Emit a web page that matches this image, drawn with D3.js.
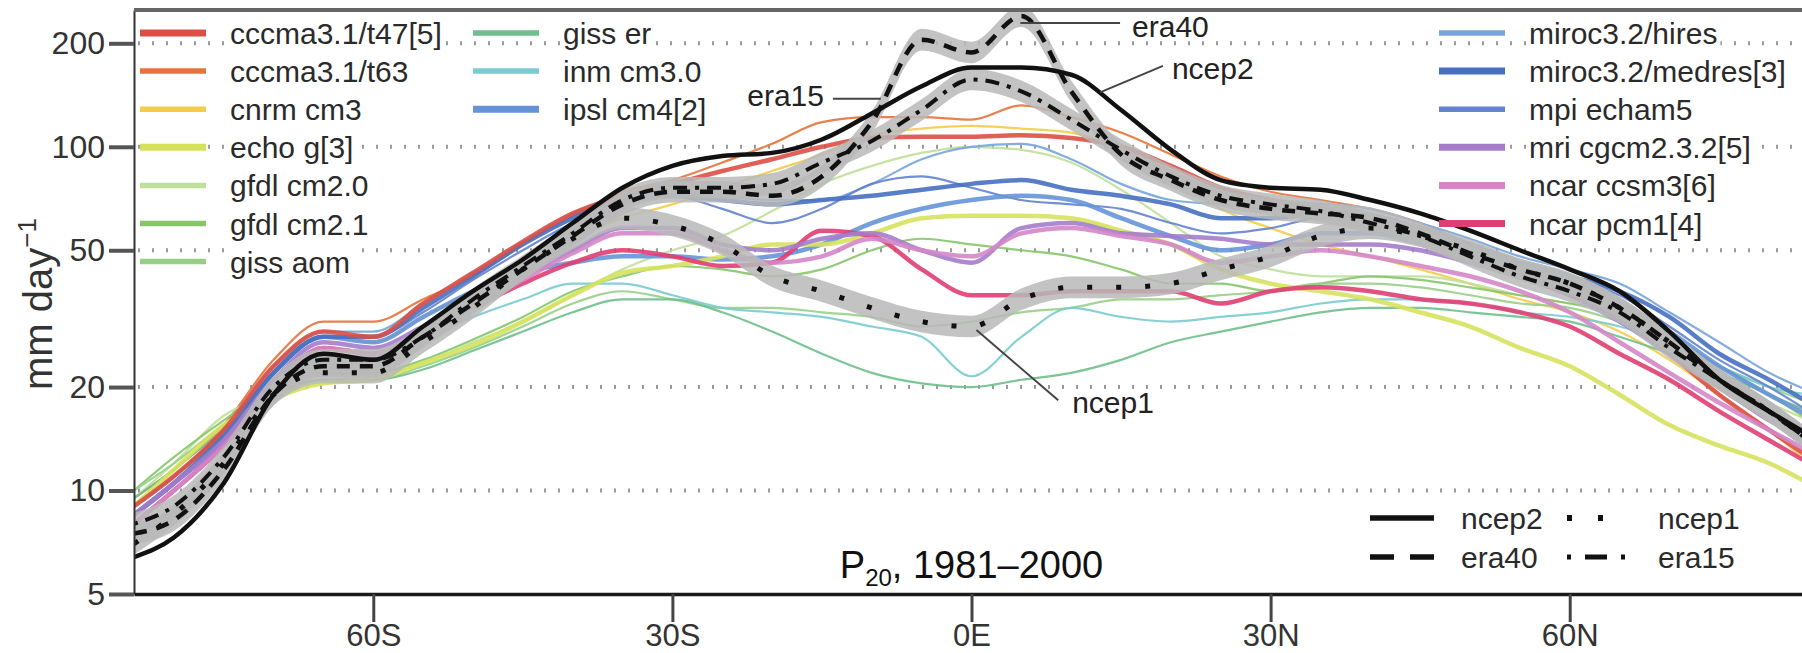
<!DOCTYPE html>
<html lang="en">
<head>
<meta charset="UTF-8">
<title>P20, 1981-2000</title>
<script src="https://cdn.jsdelivr.net/npm/d3@7"></script>
<style>
  body { margin: 0; background: #fff; }
  svg { display: block; font-family: "Liberation Sans", Arial, Helvetica, sans-serif; }
</style>
</head>
<body>
<script>
// latitude grid (deg, negative = south)
var lats = [-84,-80,-75,-70,-65,-60,-55,-50,-45,-40,-35,-30,-25,-20,-15,-10,-5,0,5,10,15,20,25,30,35,40,45,50,55,60,65,70,75,80,84];

// model zonal means of P20 (mm/day)
var cccmaT47    = [9,11,15,23,29,28,35,43,53,64,72,78,85,92,100,106,107,107,108,106,100,88,76,70,66,62,56,48,42,37,32,25,19,15,12.5];
var cccmaT63    = [9.5,11.5,15.5,24,31,31,36,42,52,63,74,80,90,102,118,122,122,120,132,122,110,95,82,74,70,66,60,52,45,40,35,28,22,17,14];
var cnrmCm3     = [9,11,14.5,22,28,27,32,38,46,55,62,68,76,85,95,108,113,115,113,110,98,85,66,58,52,48,44,40,36,33,29,24,19,15,12];
var echoG       = [9,11.5,15.5,18.5,20.5,21,23.5,26.5,31,37,43,45,48,52,52,56,62,63,63,62,57,52,44,40,38,36,33,30,26,23,19,15.5,13.5,12,10.5];
var gfdlCm20    = [9.5,12,16.5,19,21,21.5,23.5,27,31,37,44,50,55,65,78,88,96,100,98,90,75,60,48,44,42,42,42,40,37,35,32,27,22,18,16];
var gfdlCm21    = [10,12.5,16,20,22,22,24,27.5,32,38,42,45,44,42,44,50,54,52,50,48,44,40,40,38,40,42,41,39,37,35,33,28,23,19,16];
var gissAom     = [10,12,15.5,19,21,21,23,26,30,35,38,36,34,34,33,32,30,31,33,34,36,36,37,38,40,40,39,37,35,34,31,27,23,20,18];
var gissEr      = [9.5,11.5,15,19,21,21,22.5,25.5,29,33,36,36,33,29,25,22,20.5,20,21,22,24,27,29,31,33,34,34,33,32,31,28,25,22,19,17];
var inmCm30     = [9,11,14.5,21,26,25,28,32,36,40,40,37,34,33,32,30,28,21.5,28,34,32,31,32,33,35,36,36,35,33,32,30,27,23,20,19];
var ipslCm4     = [8.5,10.5,14,22,28,27,32,38,43,46,48,48,47,48,52,60,66,70,72,70,62,55,50,52,56,56,54,49,44,40,35,29,23,19,16.5];
var mirocHires  = [9,11,15,23,29,29,35,43,53,64,72,74,72,70,70,78,92,100,102,92,78,70,68,66,68,66,60,54,48,44,40,33,27,22,19.5];
var mirocMedres = [8.5,10.5,14.5,22,28,28,34,42,52,62,70,72,70,68,70,72,75,78,80,75,72,68,62,62,64,63,58,52,46,42,38,32,25,21,18];
var mpiEcham5   = [9,11,15,22,28,28,33,41,50,60,68,72,66,60,66,78,82,76,70,68,66,60,56,58,62,60,56,50,45,41,37,30,24,20,17];
var mriCgcm     = [8.5,10.5,14,21,27,26,30,35,42,50,58,58,52,50,54,56,50,46,58,60,56,55,54,52,52,52,50,46,42,37,31,25,20,16,14];
var ncarCcsm3   = [8,10,13.5,20,26,25,29,34,41,49,56,56,50,46,48,54,50,48,56,58,55,52,46,48,50,48,45,42,38,33,27,22,18,15,13];
var ncarPcm1    = [8,10,13.5,20,26,25,29,34,40,46,50,48,45,46,57,55,44,37,37,38,38,38,35,38,39,38,36,35,33,30,25,21,17,14,12];

// reanalyses
var ncep2 = [6.4,7.3,10.5,19,25,24,30,38,47,60,76,88,94,96,105,125,150,170,170,162,128,98,80,76,75,70,64,57,50,44,38,29,21,17,14.5];
var era40 = [7.5,8.2,11.5,19,23,23,28,35,44,55,68,74,74,72,82,118,205,188,240,145,95,80,70,66,64,62,56,49,44,40,34,27,21,17,14];
var era15 = [8,9,12.5,20,24,24,28,36,45,56,70,76,76,78,90,104,128,157,145,120,98,82,72,68,65,60,55,48,42,38,33,26,21,17,14];
var ncep1 = [7,8.5,12,19,22,22,27,34,44,54,62,59,52,42,38,34,31,30,36,39,39,40,44,48,55,58,55,50,44,40,34,27,21,17,14];

var modelNames = ["cccma3.1/t47[5]","cccma3.1/t63","cnrm cm3","echo g[3]","gfdl cm2.0","gfdl cm2.1","giss aom",
                  "giss er","inm cm3.0","ipsl cm4[2]",
                  "miroc3.2/hires","miroc3.2/medres[3]","mpi echam5","mri cgcm2.3.2[5]","ncar ccsm3[6]","ncar pcm1[4]"];
var modelValues = [cccmaT47,cccmaT63,cnrmCm3,echoG,gfdlCm20,gfdlCm21,gissAom,gissEr,inmCm30,ipslCm4,
                   mirocHires,mirocMedres,mpiEcham5,mriCgcm,ncarCcsm3,ncarPcm1];
var modelColors = ["#dc4f45","#e5733a","#f4cc4a","#d6e25e","#bfe09a","#86c56c","#98cf88",
                   "#6fbf8c","#79cbcf","#6593d8",
                   "#77a4dc","#4770c2","#6382cf","#a47ccc","#d486c8","#e03e72"];

var reNames = ["ncep2","ncep1","era40","era15"];
var reValues = [ncep2, ncep1, era40, era15];

var yTicks = [5,10,20,50,100,200];
var yGrid = [10,20,50,100,200];
var xTicks = [-60,-30,0,30,60];
var xTickLabels = ["60S","30S","0E","30N","60N"];

var width = 1802, height = 653;
var plotL = 134, plotT = 10, plotB = 594, plotR = 1809;

var x = d3.scaleLinear().domain([-84, 84]).range([plotL, plotR]);
var y = d3.scaleLog().domain([5, 250]).range([plotB, plotT]);

var svg = d3.select("body").append("svg")
    .attr("width", width)
    .attr("height", height);

svg.append("defs").append("clipPath").attr("id", "plot")
    .append("rect").attr("x", plotL).attr("y", plotT).attr("width", plotR - plotL).attr("height", plotB - plotT);

// dotted grid
svg.append("g").selectAll("line")
    .data(yGrid).enter().append("line")
    .attr("x1", plotL + 4).attr("x2", width)
    .attr("y1", d => y(d)).attr("y2", d => y(d))
    .attr("stroke", "#9a9a9a")
    .attr("stroke-width", 4)
    .attr("stroke-dasharray", "2,12");

var plot = svg.append("g").attr("clip-path", "url(#plot)");

var line = d3.line()
    .x((d, i) => x(lats[i]))
    .y(d => y(d))
    .curve(d3.curveMonotoneX);

function members(name) {
    var m = name.match(/\[(\d+)\]/);
    return m ? +m[1] : 1;
}

// single-run models first, ensembles on top
var order = d3.range(modelNames.length).sort((a, b) => members(modelNames[a]) - members(modelNames[b]));
plot.selectAll("path.model")
    .data(order).enter().append("path")
    .attr("class", "model")
    .attr("d", i => line(modelValues[i]))
    .attr("fill", "none")
    .attr("stroke", i => modelColors[i])
    .attr("stroke-opacity", 0.9)
    .attr("stroke-width", i => members(modelNames[i]) > 1 ? 4.5 : 2.2)
    .attr("stroke-linejoin", "round");

// grey uncertainty bands of reanalyses
var band = d3.area()
    .x((d, i) => x(lats[i]))
    .y0(d => y(d / 1.075))
    .y1(d => y(d * 1.075))
    .curve(d3.curveMonotoneX);

plot.selectAll("path.band")
    .data([era40, era15, ncep1]).enter().append("path")
    .attr("class", "band")
    .attr("d", band)
    .attr("fill", "#b9b9b9")
    .attr("fill-opacity", 0.85);

var reDash = ["none", "5,24", "13,10", "4,8,14,8"];
var reWidth = [4.5, 5, 4.5, 4];

plot.selectAll("path.re")
    .data(d3.range(reNames.length)).enter().append("path")
    .attr("class", "re")
    .attr("d", i => line(reValues[i]))
    .attr("fill", "none")
    .attr("stroke", "#111")
    .attr("stroke-width", i => reWidth[i])
    .attr("stroke-dasharray", i => reDash[i]);

// labels with leader lines (positions in lat / mm day-1)
var notes = [
    {label: "era40", from: [4.9, 229], to: [14.9, 229], at: [16.1, 208], anchor: "start"},
    {label: "ncep2", from: [12.9, 144], to: [19.2, 172], at: [20.1, 158], anchor: "start"},
    {label: "era15", from: [-9.1, 138], to: [-13.9, 138], at: [-14.8, 131], anchor: "end"},
    {label: "ncep1", from: [0.5, 29.3], to: [8.7, 18.3], at: [10.1, 16.8], anchor: "start"}
];
var ng = svg.append("g");
ng.selectAll("line").data(notes).enter().append("line")
    .attr("x1", d => x(d.from[0])).attr("y1", d => y(d.from[1]))
    .attr("x2", d => x(d.to[0])).attr("y2", d => y(d.to[1]))
    .attr("stroke", "#444").attr("stroke-width", 2);
ng.selectAll("text").data(notes).enter().append("text")
    .attr("x", d => x(d.at[0])).attr("y", d => y(d.at[1]))
    .attr("text-anchor", d => d.anchor)
    .attr("font-size", 30).attr("fill", "#222")
    .text(d => d.label);

// model legend, three columns
var legCols = [{x: 140, first: 0, n: 7}, {x: 473, first: 7, n: 3}, {x: 1439, first: 10, n: 6}];
var legTop = 33, legStep = 38.1, swLen = 66, txtGap = 24;
legCols.forEach(function(c) {
    for (var k = 0; k < c.n; k++) {
        var i = c.first + k;
        var ly = legTop + k * legStep;
        var g = svg.append("g");
        g.append("line")
            .attr("x1", c.x).attr("x2", c.x + swLen)
            .attr("y1", ly).attr("y2", ly)
            .attr("stroke", modelColors[i])
            .attr("stroke-width", members(modelNames[i]) > 1 ? 7 : 5.5);
        var bg = g.append("rect").attr("fill", "#fff");
        var t = g.append("text")
            .attr("x", c.x + swLen + txtGap).attr("y", ly + 11)
            .attr("font-size", 30).attr("fill", "#2a2a2a")
            .text(modelNames[i]);
        var b = t.node().getBBox();
        bg.attr("x", b.x - 3).attr("y", b.y).attr("width", b.width + 6).attr("height", b.height);
    }
});

// reanalysis legend
var reLegX = [1370, 1567], reLegY = [518, 557];
var reLegDash = ["none", "5,26", "24,16", "4,14,22,14"];
var reLegLen = [64, 36, 64, 64];
reNames.forEach(function(name, i) {
    var cx = reLegX[i % 2], cy = reLegY[Math.floor(i / 2)];
    svg.append("line")
        .attr("x1", cx).attr("x2", cx + reLegLen[i])
        .attr("y1", cy).attr("y2", cy)
        .attr("stroke", "#111")
        .attr("stroke-width", reWidth[i] + 1)
        .attr("stroke-dasharray", reLegDash[i]);
    svg.append("text")
        .attr("x", cx + 91).attr("y", cy + 11)
        .attr("font-size", 30).attr("fill", "#2a2a2a")
        .text(name);
});

// title
var title = svg.append("text")
    .attr("x", x(0)).attr("y", 578)
    .attr("text-anchor", "middle")
    .attr("font-size", 38).attr("fill", "#111");
title.append("tspan").text("P");
title.append("tspan").attr("font-size", 24).attr("dy", 8).text("20");
title.append("tspan").attr("dy", -8).text(", 1981\u20132000");

// axes
var yAxis = svg.append("g")
    .attr("transform", "translate(" + plotL + ",0)")
    .call(d3.axisLeft(y).tickValues(yTicks).tickFormat(d3.format("d")).tickSize(25).tickSizeOuter(0).tickPadding(4));
yAxis.select(".domain").attr("stroke", "#333").attr("stroke-width", 2);
yAxis.selectAll(".tick line").attr("stroke", "#555").attr("stroke-width", 4);
yAxis.selectAll(".tick text").attr("font-size", 32).attr("fill", "#333").attr("font-family", null);

var xAxis = svg.append("g")
    .attr("transform", "translate(0," + plotB + ")")
    .call(d3.axisBottom(x).tickValues(xTicks).tickFormat((d, i) => xTickLabels[i]).tickSize(28).tickSizeOuter(0).tickPadding(2));
xAxis.select(".domain").attr("stroke", "#1a1a1a").attr("stroke-width", 3.5);
xAxis.selectAll(".tick line").attr("stroke", "#444").attr("stroke-width", 3);
xAxis.selectAll(".tick text").attr("font-size", 31).attr("fill", "#333").attr("font-family", null);

// top frame
svg.append("line")
    .attr("x1", plotL).attr("x2", width)
    .attr("y1", plotT).attr("y2", plotT)
    .attr("stroke", "#666").attr("stroke-width", 4);

// y label
var yl = svg.append("text")
    .attr("transform", "translate(52," + ((plotB + plotT) / 2 + 2) + ") rotate(-90)")
    .attr("text-anchor", "middle")
    .attr("font-size", 40).attr("fill", "#333");
yl.append("tspan").text("mm day");
yl.append("tspan").attr("font-size", 26).attr("dy", -16).text("\u22121");
</script>
</body>
</html>
